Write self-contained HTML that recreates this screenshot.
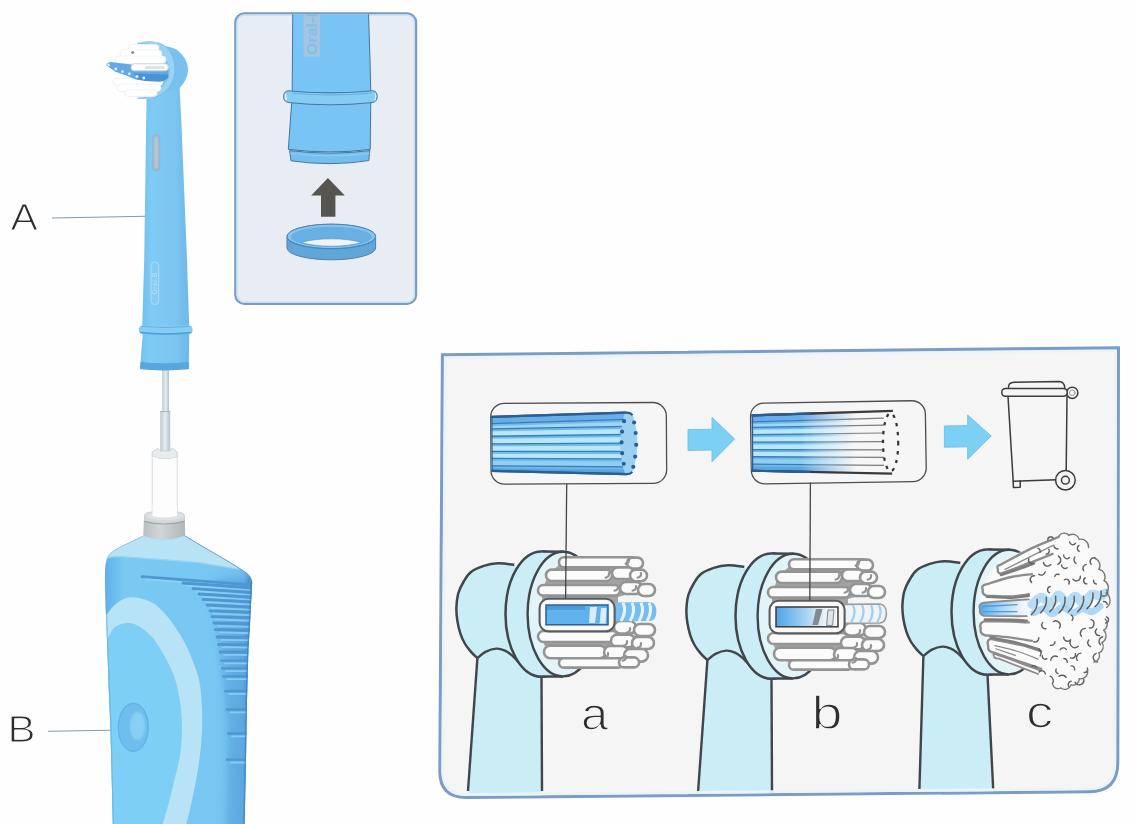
<!DOCTYPE html>
<html><head><meta charset="utf-8">
<style>
html,body{margin:0;padding:0;background:#fefefe;}
body{width:1137px;height:824px;overflow:hidden;font-family:"Liberation Sans",sans-serif;}
svg{display:block;}
text{font-family:"Liberation Sans",sans-serif;}
</style></head><body>
<svg width="1137" height="824" viewBox="0 0 1137 824">
<defs>
<filter id="scan" x="0" y="0" width="100%" height="100%" filterUnits="userSpaceOnUse"><feGaussianBlur stdDeviation="0.45"/></filter>
<filter id="soft" x="-5%" y="-5%" width="110%" height="110%"><feGaussianBlur stdDeviation="0.6"/></filter>
<filter id="soft3" x="-20%" y="-5%" width="140%" height="110%"><feGaussianBlur stdDeviation="3"/></filter>
<filter id="soft2" x="-5%" y="-5%" width="110%" height="110%"><feGaussianBlur stdDeviation="1.2"/></filter>
<linearGradient id="neckG" x1="0" x2="1" y1="0" y2="0">
 <stop offset="0" stop-color="#72c0ee"/><stop offset="0.2" stop-color="#7ecbf5"/><stop offset="0.7" stop-color="#7ac5f1"/><stop offset="1" stop-color="#6fb7e7"/>
</linearGradient>
<linearGradient id="bodyG" x1="0" x2="1" y1="0" y2="0">
 <stop offset="0" stop-color="#5fb0e8"/><stop offset="0.13" stop-color="#79c9f3"/><stop offset="0.75" stop-color="#78c7f2"/><stop offset="0.94" stop-color="#6ebcee"/><stop offset="1" stop-color="#4a8fca"/>
</linearGradient>
<linearGradient id="collarG" x1="0" x2="1" y1="0" y2="0">
 <stop offset="0" stop-color="#b9bec1"/><stop offset="0.4" stop-color="#d3d6d8"/><stop offset="1" stop-color="#b1b6ba"/>
</linearGradient>
<linearGradient id="shaftG" x1="0" x2="1" y1="0" y2="0">
 <stop offset="0" stop-color="#bccad2"/><stop offset="0.5" stop-color="#e6ecf0"/><stop offset="1" stop-color="#b4c2cb"/>
</linearGradient>
</defs>
<rect x="0" y="0" width="1137" height="824" fill="#fefefe"/>

<g filter="url(#scan)">
<!-- ============ MAIN TOOTHBRUSH ============ -->
<g id="main">

<!-- leader lines -->
<line x1="52" y1="218" x2="146" y2="216.3" stroke="#7f9bb0" stroke-width="1.1"/>
<line x1="48" y1="731.2" x2="110" y2="730.2" stroke="#7f9bb0" stroke-width="1.1"/>

<!-- metal shaft -->
<rect x="162.2" y="366" width="6.8" height="48" fill="url(#shaftG)"/>
<rect x="160.2" y="411" width="10" height="40" fill="url(#shaftG)"/>
<line x1="160.2" y1="411.5" x2="170.2" y2="411.5" stroke="#9aa9b3" stroke-width="0.8"/>
<!-- white sleeve -->
<path d="M152.2,452 L152.2,514 L177.2,514 L177.2,452 L172,448 L170.5,451 L160,451 L158,448.5 Z" fill="#fdfdfd" stroke="#d3d8dc" stroke-width="0.9"/>
<path d="M152.4,452 L158,448.5 L160,451 L170.5,451 L172,448 L177,452 L177,457 L170,458.5 L160,458.5 L152.4,456 Z" fill="#e9ecee" stroke="#c8cdd1" stroke-width="0.6"/>
<!-- gray collar -->
<path d="M144,517 Q144,512 151,511.8 L178,511.8 Q184.5,512 184.8,517 L185.2,536 Q164,543 143.2,536 Z" fill="url(#collarG)"/>
<path d="M144.4,521.4 Q164.4,526.6 184.6,521.4" fill="none" stroke="#9da3a7" stroke-width="1.1"/>
<path d="M144.2,516.4 Q144,512 151,511.8 L178,511.8 Q184.5,512 184.7,516.4 L184.7,520.6 Q164.4,525.8 144.3,520.6 Z" fill="#d4d7d9"/>
<ellipse cx="164.4" cy="516" rx="18.5" ry="4.2" fill="#e0e3e5"/>
<rect x="152.4" y="505" width="24.6" height="10" fill="#fdfdfd"/>
<ellipse cx="164.7" cy="515" rx="12.3" ry="2.6" fill="#fdfdfd"/>

<!-- HANDLE -->
<g>
<clipPath id="hclip"><path id="hpath" d="M143.2,536 Q164,543 185.2,536 L206,548.5 Q230,562 243,570.6 Q252.4,576 252,584 L250.2,620 L248.4,650 L247,700 L246,760 L244.6,826 L112.8,826 L111.5,770 L110.4,728 L108.6,685 L107.2,644 L105.6,607 L105,580 Q104.8,561 108,556.2 Q112,551 121,546.6 Z"/></clipPath>
<use href="#hpath" fill="url(#bodyG)"/>
<g clip-path="url(#hclip)">
 <!-- top face -->
 <path d="M143,535 Q164,543 185.4,535 L240,569 Q226,567.4 200,562.6 Q150,558.4 120,556.6 Q108,556.2 103,560 L100,540 Z" fill="#b8e3f5"/>
 <path d="M103,560 Q108,556.2 120,556.6 Q150,558.4 200,562.6 Q226,567.4 240,569" fill="none" stroke="#9ad3f1" stroke-width="1.4"/>
 <!-- inner oval -->
 <path d="M100.0,650.0 C101.4,647.9 106.1,641.0 108.5,637.2 C110.9,633.5 111.8,629.8 114.6,627.5 C117.4,625.2 121.9,623.6 125.5,623.2 C129.1,622.8 132.6,623.3 136.4,625.0 C140.2,626.7 144.8,630.0 148.5,633.5 C152.2,637.0 155.1,640.8 158.3,645.7 C161.6,650.6 165.2,657.0 168.0,662.7 C170.8,668.4 173.1,672.7 175.2,679.7 C177.3,686.8 179.4,696.6 180.5,705.0 C181.6,713.4 182.1,721.7 182.0,730.0 C181.9,738.3 181.3,746.7 180.0,755.0 C178.7,763.3 176.2,772.2 174.4,780.0 C172.6,787.8 171.2,794.0 169.0,802.0 C166.8,810.0 162.8,823.7 161.5,828.0 L100,828 Z" fill="#7dcff5"/>
 <!-- light arc -->
 <path d="M100.0,624.0 C101.3,622.1 105.1,616.4 107.9,612.9 C110.7,609.4 113.3,605.6 117.0,603.0 C120.7,600.4 125.1,597.7 130.3,597.3 C135.6,596.9 143.4,598.8 148.5,600.8 C153.6,602.8 156.6,605.5 160.7,609.3 C164.8,613.1 168.8,618.1 172.8,623.8 C176.9,629.5 181.6,636.8 185.0,643.3 C188.4,649.8 191.0,656.2 193.4,662.7 C195.8,669.2 198.1,674.1 199.5,682.0 C200.9,689.9 201.7,700.3 202.0,710.0 C202.3,719.7 202.3,729.2 201.5,740.0 C200.7,750.8 198.8,764.2 197.0,775.0 C195.2,785.8 192.9,796.2 191.0,805.0 C189.1,813.8 186.4,824.2 185.5,828.0 L161.5,828 C162.8,823.7 166.8,810.0 169.0,802.0 C171.2,794.0 172.6,787.8 174.4,780.0 C176.2,772.2 178.7,763.3 180.0,755.0 C181.3,746.7 181.9,738.3 182.0,730.0 C182.1,721.7 181.6,713.4 180.5,705.0 C179.4,696.6 177.3,686.8 175.2,679.7 C173.1,672.7 170.8,668.4 168.0,662.7 C165.2,657.0 161.6,650.6 158.3,645.7 C155.1,640.8 152.2,637.0 148.5,633.5 C144.8,630.0 140.2,626.7 136.4,625.0 C132.6,623.3 129.1,622.8 125.5,623.2 C121.9,623.6 117.4,625.2 114.6,627.5 C111.8,629.8 110.9,633.5 108.5,637.2 C106.1,641.0 101.4,647.9 100.0,650.0 Z" fill="#b8e2f5"/>
 <!-- button -->
 <ellipse cx="133.3" cy="727.3" rx="15" ry="24" fill="#6fbeee" stroke="#63b2e9" stroke-width="1.3"/>
 <ellipse cx="137.5" cy="726" rx="7.5" ry="14" fill="#8dd3f7" opacity="0.85" filter="url(#soft2)"/>
 <linearGradient id="rzG" gradientUnits="userSpaceOnUse" x1="206" x2="252" y1="0" y2="0"><stop offset="0" stop-color="#3f86c8" stop-opacity="0"/><stop offset="0.35" stop-color="#3f86c8" stop-opacity="0.28"/><stop offset="1" stop-color="#3f86c8" stop-opacity="0.42"/></linearGradient>
 <path d="M170,574 L260,580 L260,830 L226,830 L228,735 L224,690 L218,640 L208,606 L196,590 Z" fill="url(#rzG)" filter="url(#soft3)"/>
 <!-- ridges -->
 <g id="ridges" stroke-linecap="round">
 <line x1="142" y1="576.6" x2="253" y2="584.9" stroke="#4f97d0" stroke-width="2.8"/>
<line x1="146" y1="579.4" x2="253" y2="587.7" stroke="#8fd3f8" stroke-width="1.8" opacity="0.8"/>
<line x1="183" y1="583" x2="253" y2="587.8" stroke="#4f97d0" stroke-width="2.8"/>
<line x1="187" y1="585.8" x2="253" y2="590.6" stroke="#8fd3f8" stroke-width="1.8" opacity="0.8"/>
<line x1="193" y1="588.6" x2="253" y2="592.4" stroke="#4f97d0" stroke-width="2.8"/>
<line x1="197" y1="591.4" x2="253" y2="595.2" stroke="#8fd3f8" stroke-width="1.8" opacity="0.8"/>
<line x1="199" y1="594" x2="253" y2="597.1" stroke="#4f97d0" stroke-width="2.8"/>
<line x1="203" y1="596.8" x2="253" y2="599.9" stroke="#8fd3f8" stroke-width="1.8" opacity="0.8"/>
<line x1="203" y1="599.4" x2="253" y2="602.0" stroke="#4f97d0" stroke-width="2.8"/>
<line x1="207" y1="602.1999999999999" x2="253" y2="604.8" stroke="#8fd3f8" stroke-width="1.8" opacity="0.8"/>
<line x1="207" y1="605" x2="253" y2="607.1" stroke="#4f97d0" stroke-width="2.8"/>
<line x1="211" y1="607.8" x2="253" y2="609.9" stroke="#8fd3f8" stroke-width="1.8" opacity="0.8"/>
<line x1="210" y1="610.8" x2="253" y2="612.5" stroke="#4f97d0" stroke-width="2.8"/>
<line x1="214" y1="613.5999999999999" x2="253" y2="615.3" stroke="#8fd3f8" stroke-width="1.8" opacity="0.8"/>
<line x1="212" y1="616.6" x2="253" y2="618.0" stroke="#4f97d0" stroke-width="2.8"/>
<line x1="216" y1="619.4" x2="253" y2="620.8" stroke="#8fd3f8" stroke-width="1.8" opacity="0.8"/>
<line x1="214" y1="623" x2="253" y2="624.1" stroke="#4f97d0" stroke-width="2.8"/>
<line x1="218" y1="625.8" x2="253" y2="626.9" stroke="#8fd3f8" stroke-width="1.8" opacity="0.8"/>
<line x1="215.5" y1="629.6" x2="253" y2="630.5" stroke="#4f97d0" stroke-width="2.8"/>
<line x1="219.5" y1="632.4" x2="253" y2="633.3" stroke="#8fd3f8" stroke-width="1.8" opacity="0.8"/>
<line x1="217" y1="637" x2="253" y2="637.6" stroke="#4f97d0" stroke-width="2.8"/>
<line x1="221" y1="639.8" x2="253" y2="640.4" stroke="#8fd3f8" stroke-width="1.8" opacity="0.8"/>
<line x1="218.5" y1="644.4" x2="253" y2="644.8" stroke="#4f97d0" stroke-width="2.8"/>
<line x1="222.5" y1="647.1999999999999" x2="253" y2="647.6" stroke="#8fd3f8" stroke-width="1.8" opacity="0.8"/>
<line x1="220" y1="652" x2="253" y2="652.2" stroke="#4f97d0" stroke-width="2.8"/>
<line x1="224" y1="654.8" x2="253" y2="655.0" stroke="#8fd3f8" stroke-width="1.8" opacity="0.8"/>
<line x1="221" y1="660.6" x2="253" y2="660.6" stroke="#4f97d0" stroke-width="2.3"/>
<line x1="225" y1="663.4" x2="253" y2="663.4" stroke="#8fd3f8" stroke-width="1.8" opacity="0.8"/>
<line x1="222" y1="668.4" x2="253" y2="668.4" stroke="#4f97d0" stroke-width="2.3"/>
<line x1="226" y1="671.1999999999999" x2="253" y2="671.2" stroke="#8fd3f8" stroke-width="1.8" opacity="0.8"/>
<line x1="223" y1="676.4" x2="253" y2="676.4" stroke="#4f97d0" stroke-width="2.3"/>
<line x1="227" y1="679.1999999999999" x2="253" y2="679.2" stroke="#8fd3f8" stroke-width="1.8" opacity="0.8"/>
<line x1="225" y1="691" x2="253" y2="691.0" stroke="#4f97d0" stroke-width="2.3"/>
<line x1="229" y1="693.8" x2="253" y2="693.8" stroke="#8fd3f8" stroke-width="1.8" opacity="0.8"/>
<line x1="226.5" y1="709.5" x2="253" y2="709.5" stroke="#4f97d0" stroke-width="2.3"/>
<line x1="230.5" y1="712.3" x2="253" y2="712.3" stroke="#8fd3f8" stroke-width="1.8" opacity="0.8"/>
<line x1="228" y1="733.5" x2="253" y2="733.5" stroke="#4f97d0" stroke-width="2.3"/>
<line x1="232" y1="736.3" x2="253" y2="736.3" stroke="#8fd3f8" stroke-width="1.8" opacity="0.8"/>
<line x1="227" y1="759.7" x2="253" y2="759.7" stroke="#4f97d0" stroke-width="2.3"/>
<line x1="231" y1="762.5" x2="253" y2="762.5" stroke="#8fd3f8" stroke-width="1.8" opacity="0.8"/>
 </g>
 <!-- edge shading -->
 <path d="M105,560 L105.6,607 L107.2,644 L108.6,685 L110.4,728 L112.8,826" fill="none" stroke="#58abe3" stroke-width="2.4" opacity="0.6"/>
 <path d="M252,582 L250.2,620 L248.4,650 L247,700 L246,760 L244.6,826" fill="none" stroke="#3b7fbd" stroke-width="2.6" opacity="0.8"/>
</g>
<path d="M185.2,536 L206,548.5 Q230,562 243,570.6 Q252.4,576 252,584" fill="none" stroke="#4e86b6" stroke-width="0.9" opacity="0.8"/>
<path d="M143.2,536 L121,546.6 Q112,551 108,556.2" fill="none" stroke="#7fb6dc" stroke-width="0.8" opacity="0.8"/>
</g>

<!-- NECK (brush head stem) -->
<g>
 <!-- head back -->
 <path d="M164.6,46 Q171,46.8 176.5,49.4 Q181.6,53 185,58.8 Q188.2,64 188,69.4 Q188,74.6 185.8,79.2 Q183.6,84 179.9,87.7 L176,95 L158,97 Z" fill="#78c1ef"/>
 <!-- neck -->
 <path d="M146.6,97 L146.2,120 L144.2,260 L142.2,326 L189.2,326 L187,260 L181.3,120 L179.6,88 L165,92 Z" fill="url(#neckG)"/>
 <!-- lower neck -->
 <path d="M142.8,333 L140,369 Q164,371.5 188.8,369 L189.2,333 Z" fill="url(#neckG)"/>
 <path d="M140.5,362 Q164,364.5 188.8,362 L188.8,369 Q164,371.8 140,369 Z" fill="#59a6dc"/>
 <!-- ring -->
 <rect x="138.8" y="325.6" width="53.8" height="8.2" rx="4" ry="4" fill="#86cdf5"/>
 <path d="M140,332.5 Q165,335.5 191.5,332.5" fill="none" stroke="#4f9fd9" stroke-width="1.3"/>
 <path d="M141,326.4 Q165,328.6 190.5,326.4" fill="none" stroke="#5aa8df" stroke-width="0.8"/>
 <!-- gray slot -->
 <rect x="152.8" y="134.6" width="7" height="36" rx="3" ry="3" fill="#a6bacd" stroke="#8fb0cc" stroke-width="0.8"/>
 <rect x="154.6" y="137" width="3" height="31" rx="1.5" fill="#b7c5d2"/>
 <!-- logo -->
 <g transform="translate(154.9,283.3) rotate(-90)">
  <rect x="-21.3" y="-3.8" width="42.6" height="7.6" rx="3.8" fill="#85cbf3" stroke="#b0dbf5" stroke-width="1"/>
  <text x="0" y="2.3" font-size="6.4" font-weight="bold" text-anchor="middle" fill="#b3daf4" letter-spacing="0.5">Oral-B</text>
 </g>
 <!-- crescent rim -->
 <path d="M137.0,43.5 C138.2,43.2 141.7,42.0 144.0,41.6 C146.3,41.2 148.7,41.0 151.0,41.2 C153.3,41.4 155.7,41.8 158.0,42.6 C160.3,43.4 162.7,44.7 164.6,46.0 C166.5,47.3 168.1,48.9 169.4,50.6 C170.7,52.3 171.6,54.3 172.4,56.2 C173.2,58.1 174.0,59.9 174.4,62.0 C174.8,64.1 174.9,66.7 174.9,69.0 C174.9,71.3 174.6,73.9 174.2,76.0 C173.8,78.1 173.1,79.8 172.2,81.7 C171.3,83.6 170.3,85.7 169.0,87.4 C167.7,89.1 166.3,90.6 164.6,92.0 C162.9,93.4 161.0,94.6 159.0,95.6 C157.0,96.6 155.0,97.3 152.7,97.9 C150.4,98.5 147.6,98.9 145.0,99.0 C142.4,99.1 138.7,98.4 137.4,98.3 C138.8,98.1 143.4,97.8 146.0,97.2 C148.6,96.6 150.4,95.8 152.7,94.5 C154.9,93.2 157.5,91.4 159.5,89.4 C161.5,87.4 163.2,84.6 164.6,82.6 C165.9,80.6 166.9,79.2 167.6,77.6 C168.3,76.0 168.6,74.7 168.8,73.2 C169.0,71.7 169.1,70.2 169.0,68.8 C168.9,67.4 168.6,66.3 168.0,64.7 C167.4,63.1 166.5,61.1 165.4,59.4 C164.3,57.7 162.5,56.1 161.2,54.5 C159.9,52.9 158.7,51.4 157.6,50.0 C156.5,48.6 156.3,47.0 154.4,46.0 C152.5,45.0 148.9,44.6 146.0,44.2 C143.1,43.8 138.5,43.6 137.0,43.5 Z" fill="#9ad2f3"/>
 <path d="M137.4,98.3 C138.8,98.1 143.4,97.8 146.0,97.2 C148.6,96.6 150.4,95.8 152.7,94.5 C154.9,93.2 157.5,91.4 159.5,89.4 C161.5,87.4 163.2,84.6 164.6,82.6 C165.9,80.6 166.9,79.2 167.6,77.6 C168.3,76.0 168.6,74.7 168.8,73.2 C169.0,71.7 169.1,70.2 169.0,68.8 C168.9,67.4 168.6,66.3 168.0,64.7 C167.4,63.1 166.5,61.1 165.4,59.4 C164.3,57.7 162.5,56.1 161.2,54.5 C159.9,52.9 158.7,51.4 157.6,50.0 C156.5,48.6 156.3,47.0 154.4,46.0 C152.5,45.0 148.9,44.6 146.0,44.2 C143.1,43.8 138.5,43.6 137.0,43.5" fill="none" stroke="#7fc0ea" stroke-width="1.6" opacity="0.8"/>
 <path d="M158.0,42.6 C159.1,43.2 162.7,44.7 164.6,46.0 C166.5,47.3 168.1,48.9 169.4,50.6 C170.7,52.3 171.6,54.3 172.4,56.2 C173.2,58.1 174.0,59.9 174.4,62.0 C174.8,64.1 174.9,66.7 174.9,69.0 C174.9,71.3 174.6,73.9 174.2,76.0 C173.8,78.1 173.1,79.8 172.2,81.7 C171.3,83.6 170.3,85.7 169.0,87.4 C167.7,89.1 166.3,90.6 164.6,92.0 C162.9,93.4 161.0,94.6 159.0,95.6 C157.0,96.6 153.8,97.5 152.7,97.9" fill="none" stroke="#6fb7e8" stroke-width="0.8"/>
 <!-- bristles: white tufts -->
 <g fill="#ffffff" stroke="#eceff1" stroke-width="0.8">
  <rect x="128" y="44.5" width="31" height="7" rx="3.5"/>
  <rect x="120" y="50" width="42" height="7.5" rx="3.7"/>
  <rect x="115" y="56" width="51" height="7.5" rx="3.7"/>
  <rect x="113" y="78" width="50" height="7.5" rx="3.7"/>
  <rect x="117" y="84" width="44" height="7.5" rx="3.7"/>
  <rect x="125" y="90" width="32" height="6.5" rx="3.2"/>
 </g>
 <!-- blue bristles -->
 <path d="M106.4,63.9 Q108.6,61.4 112.7,62.2 L129.7,64.3 L150,67 L168,68.6 L168.6,77 Q165,81 159.5,81.5 L145.9,81.1 L135.7,79.4 L125.5,75.2 L115.3,71.8 L108.5,66.8 Q106,65.6 106.4,63.9 Z" fill="#62aae4"/>
 <path d="M134,73.4 L167.6,74.4 L168.4,77.4 Q165,81 159.5,81.5 L145.9,81.1 L138,79.6 Z" fill="#4a92d5"/>
 <g fill="#dff0fb">
  <circle cx="108.6" cy="64.8" r="1.4"/><circle cx="115.8" cy="69" r="1.4"/><circle cx="122.6" cy="71.6" r="1.4"/><circle cx="129.4" cy="73.8" r="1.4"/><circle cx="137" cy="76.6" r="1.5"/><circle cx="143.8" cy="78" r="1.4"/>
 </g>
 <rect x="131" y="63.8" width="37.4" height="7" rx="3.5" fill="#ffffff" stroke="#c9d4dc" stroke-width="0.9"/>
 <rect x="144.6" y="66" width="20" height="3" rx="1.5" fill="#dfe3e6"/>
 <circle cx="132.7" cy="52.4" r="1.5" fill="#5d6670" opacity="0.75"/>
</g>

</g>

<!-- ============ INSET (ring) ============ -->
<g id="inset">

<clipPath id="insclip"><rect x="236.2" y="14.2" width="179" height="288.8" rx="8" ry="8"/></clipPath>
<rect x="235.3" y="13.3" width="180.8" height="290.6" rx="9" ry="9" fill="#e8ecf3" stroke="#789dc4" stroke-width="2.2"/>
<rect x="237" y="15" width="177.4" height="287.2" rx="7.5" ry="7.5" fill="none" stroke="#c3def3" stroke-width="1.4" opacity="0.9"/>
<g clip-path="url(#insclip)">
 <!-- neck upper -->
 <path d="M292.8,10 L292.4,60 L292.2,93 L370.8,93 L370,60 L368.4,10 Z" fill="#78c4f4" stroke="#44779f" stroke-width="1"/>
 <!-- logo -->
 <g transform="translate(311.8,36.4) rotate(-90)">
  <clipPath id="lgc"><rect x="-20.4" y="-8.2" width="44" height="16.4" rx="2.5"/></clipPath>
  <rect x="-20.4" y="-8.2" width="44" height="16.4" rx="2.5" fill="#a9c5de" opacity="0.9"/>
  <text x="-18.6" y="5.6" font-size="15.5" font-weight="bold" fill="#7fbfea" letter-spacing="0.3" clip-path="url(#lgc)" opacity="0.9">Oral-B</text>
 </g>
 <!-- below ring -->
 <path d="M291.8,101 L288.3,149.4 Q330,154.5 370.2,149.4 L370.8,101 Z" fill="#78c4f4" stroke="#44779f" stroke-width="1"/>
 <!-- bottom lip -->
 <path d="M289.6,150.6 Q330,155.6 369.8,150.6 L368.8,160.6 Q330,166.6 291,160.8 Z" fill="#74bff0" stroke="#44779f" stroke-width="1"/>
 <path d="M290.5,153.4 Q330,158.4 369.4,153.4" fill="none" stroke="#8dcbf1" stroke-width="1.2"/>
 <!-- ring on neck -->
 <path d="M288,90.8 Q330,95 373,90.8 Q377.4,91.4 377.2,96.8 Q377,102 372,102.6 Q330,107 289,102.6 Q283.6,102 283.6,96.8 Q283.6,91.4 288,90.8 Z" fill="#86cdf6" stroke="#44779f" stroke-width="1"/>
 <path d="M285.6,94 Q285,97.4 286.4,100" fill="none" stroke="#eef6fb" stroke-width="1.6"/>
 <path d="M375.4,93.4 Q376.2,97 374.8,100.4" fill="none" stroke="#dcedf8" stroke-width="1.2"/>
 <path d="M292.4,93.2 Q330,96.8 370.6,93.2" fill="none" stroke="#4d93cf" stroke-width="0.8" opacity="0.7"/>
</g>
<!-- arrow up -->
<path d="M327.9,178 L344.8,195.4 L335.4,195.4 L335.4,216.8 L321,216.8 L321,195.4 L311.2,195.4 Z" fill="#57554f"/>
<!-- loose ring -->
<g>
 <path d="M287,236.4 A44.3,12.2 0 0 1 375.6,236.4 L375.6,248 A44.3,11.8 0 0 1 287,248 Z" fill="#61a6d8" stroke="#4f7faf" stroke-width="1"/>
 <ellipse cx="331.3" cy="236.4" rx="44.3" ry="12.2" fill="#84c6ee" stroke="#4f7faf" stroke-width="0.9"/>
 <ellipse cx="331.3" cy="236.9" rx="40.6" ry="10.2" fill="#68b0e2"/>
 <path d="M301.3,242.5 A38,9.6 0 0 1 361.3,242.5 A38,9.6 0 0 1 301.3,242.5 Z" fill="#f1f3f6" stroke="#4a90cf" stroke-width="0.6"/>
 <path d="M287.6,238.6 A44.3,12.2 0 0 0 375,238.6" fill="none" stroke="#3f86c6" stroke-width="1" opacity="0.85"/>
</g>

</g>

<!-- ============ PANEL a b c ============ -->
<g id="panel">

<defs>
<linearGradient id="fadeG" x1="0" x2="1" y1="0" y2="0"><stop offset="0" stop-color="#4fa4e6"/><stop offset="0.45" stop-color="#9fd0f2"/><stop offset="0.8" stop-color="#eef3f6"/><stop offset="1" stop-color="#f4f4f4"/></linearGradient>
<linearGradient id="cblueG" x1="0" x2="1" y1="0" y2="0"><stop offset="0" stop-color="#55a8e9"/><stop offset="0.45" stop-color="#a9d5f4"/><stop offset="0.9" stop-color="#f4f7fa"/></linearGradient>
<linearGradient id="b2fade" gradientUnits="userSpaceOnUse" x1="800" x2="856" y1="0" y2="0"><stop offset="0" stop-color="#f6f6f6" stop-opacity="0"/><stop offset="1" stop-color="#f6f6f6" stop-opacity="1"/></linearGradient>
<linearGradient id="lineG" gradientUnits="userSpaceOnUse" x1="800" x2="850" y1="0" y2="0"><stop offset="0" stop-color="#666" stop-opacity="0"/><stop offset="1" stop-color="#666" stop-opacity="1"/></linearGradient>
<clipPath id="co1"><rect x="491.4" y="403.4" width="174.6" height="80" rx="13"/></clipPath>
<clipPath id="co2"><rect x="751.4" y="402.4" width="174.2" height="80" rx="13"/></clipPath>
</defs>
<!-- panel frame -->
<path d="M442.4,354.7 L1118.5,347.8 L1117.8,763 Q1117.6,791.4 1089.6,791.8 L466.4,797.4 Q440,797.6 439.8,771.4 Z" fill="#f5f5f5" stroke="#7a9dc8" stroke-width="3" stroke-linejoin="miter"/>

<!-- heads -->
<clipPath id="pclip"><path d="M443.8,356.2 L1117,349.3 L1116.4,763 Q1116.2,790 1089.6,790.4 L466.4,796 Q441.4,796.2 441.2,771.4 Z"/></clipPath>
<g clip-path="url(#pclip)">
<g id="headA"><path d="M477.4,658.2 C478.8,657.1 482.8,653.2 486.0,651.6 C489.2,650.0 493.2,648.8 496.4,648.6 C499.6,648.4 502.4,649.5 505.0,650.6 C507.6,651.7 509.5,653.2 512.0,655.4 C514.5,657.6 517.4,660.9 520.0,663.6 C522.6,666.3 525.1,669.4 527.4,671.4 C529.7,673.4 531.6,674.5 534.0,675.4 C536.4,676.3 540.2,676.4 541.5,676.6 L542,800 L468,800 Z" fill="#cbedf5"/>
<path d="M477.4,658.2 L468,791" fill="none" stroke="#41464c" stroke-width="2.4"/>
<path d="M541.5,676.4 L542,791" fill="none" stroke="#41464c" stroke-width="2.4"/>
<path d="M514.3,564.8 C511.6,564.5 503.1,563.0 498.0,563.2 C492.9,563.4 488.2,564.4 483.7,565.9 C479.2,567.4 474.3,569.5 471.0,572.0 C467.7,574.5 466.1,577.5 464.0,581.0 C461.9,584.5 459.7,588.6 458.4,593.0 C457.1,597.4 456.6,602.7 456.4,607.4 C456.2,612.1 456.7,616.6 457.4,621.0 C458.1,625.4 459.2,629.9 460.4,633.6 C461.6,637.4 463.1,640.5 464.8,643.5 C466.5,646.5 468.5,648.9 470.6,651.4 C472.7,653.9 476.3,657.1 477.4,658.2 C478.8,657.1 482.8,653.2 486.0,651.6 C489.2,650.0 493.2,648.8 496.4,648.6 C499.6,648.4 502.4,649.5 505.0,650.6 C507.6,651.7 509.5,653.2 512.0,655.4 C514.5,657.6 517.4,660.9 520.0,663.6 C522.6,666.3 525.1,669.4 527.4,671.4 C529.7,673.4 531.6,674.5 534.0,675.4 C536.4,676.3 540.2,676.4 541.5,676.6 L541.5,600 Z" fill="#cbedf5"/>
<path d="M514.3,564.8 C511.6,564.5 503.1,563.0 498.0,563.2 C492.9,563.4 488.2,564.4 483.7,565.9 C479.2,567.4 474.3,569.5 471.0,572.0 C467.7,574.5 466.1,577.5 464.0,581.0 C461.9,584.5 459.7,588.6 458.4,593.0 C457.1,597.4 456.6,602.7 456.4,607.4 C456.2,612.1 456.7,616.6 457.4,621.0 C458.1,625.4 459.2,629.9 460.4,633.6 C461.6,637.4 463.1,640.5 464.8,643.5 C466.5,646.5 468.5,648.9 470.6,651.4 C472.7,653.9 476.3,657.1 477.4,658.2" fill="none" stroke="#41464c" stroke-width="2.5"/>
<path d="M477.4,658.2 C478.8,657.1 482.8,653.2 486.0,651.6 C489.2,650.0 493.2,648.8 496.4,648.6 C499.6,648.4 502.4,649.5 505.0,650.6 C507.6,651.7 509.5,653.2 512.0,655.4 C514.5,657.6 517.4,660.9 520.0,663.6 C522.6,666.3 525.1,669.4 527.4,671.4 C529.7,673.4 531.6,674.5 534.0,675.4 C536.4,676.3 540.2,676.4 541.5,676.6" fill="none" stroke="#41464c" stroke-width="2.4"/>
<path d="M541.5,551.4 L563,551.8 L563,676.4 L541.5,676.6 Z" fill="#cbedf5"/>
<ellipse cx="541.5" cy="614" rx="36" ry="62.6" fill="#cbedf5" stroke="#41464c" stroke-width="2.5"/>
<path d="M541.5,551.4 L563,551.8 L563,676.4 L541.5,676.6 Z" fill="#cbedf5"/>
<line x1="541.5" y1="551.4" x2="564" y2="551.8" stroke="#41464c" stroke-width="2.5"/>
<line x1="541.5" y1="676.6" x2="563" y2="676.4" stroke="#41464c" stroke-width="2.5"/>
<ellipse cx="563" cy="614.1" rx="35.4" ry="62.3" fill="#e3f4f9"/>
<path d="M587,568.2 A35.4,62.3 0 0 0 563,551.8 A35.4,62.3 0 0 0 563,676.4 A35.4,62.3 0 0 0 585,663" fill="none" stroke="#41464c" stroke-width="2.4" stroke-linecap="round"/><path d="M563,561 L626,561 L634,572 L636,592 L618,597 L618,632 L636,636 L634,652 L622,663 L563,663 L549,654 L542,640 L542,590 L549,574 Z" fill="#a3a3a3"/>
<rect x="559" y="557.3" width="78" height="10" rx="5.0" ry="5.0" fill="#fbfbfb" stroke="#949494" stroke-width="2.6"/>
<rect x="627" y="557.6" width="16" height="11" rx="5.5" ry="5.5" fill="#fbfbfb" stroke="#949494" stroke-width="2.6"/>
<rect x="546" y="569.6" width="66" height="11.4" rx="5.7" ry="5.7" fill="#fbfbfb" stroke="#949494" stroke-width="2.6"/>
<rect x="612" y="567.4" width="22" height="11.6" rx="5.8" ry="5.8" fill="#fbfbfb" stroke="#949494" stroke-width="2.6"/>
<rect x="630" y="569.6" width="17" height="11.6" rx="5.8" ry="5.8" fill="#fbfbfb" stroke="#949494" stroke-width="2.6"/>
<rect x="538" y="585" width="82" height="10.6" rx="5.3" ry="5.3" fill="#fbfbfb" stroke="#949494" stroke-width="2.6"/>
<rect x="620" y="582" width="22" height="12" rx="6.0" ry="6.0" fill="#fbfbfb" stroke="#949494" stroke-width="2.6"/>
<rect x="638" y="584" width="17" height="12" rx="6.0" ry="6.0" fill="#fbfbfb" stroke="#949494" stroke-width="2.6"/>
<rect x="538" y="631" width="80" height="11" rx="5.5" ry="5.5" fill="#fbfbfb" stroke="#949494" stroke-width="2.6"/>
<rect x="614" y="621" width="22" height="12.6" rx="6.3" ry="6.3" fill="#fbfbfb" stroke="#949494" stroke-width="2.6"/>
<rect x="634" y="624" width="21" height="12" rx="6.0" ry="6.0" fill="#fbfbfb" stroke="#949494" stroke-width="2.6"/>
<rect x="611" y="634.6" width="24" height="12.6" rx="6.3" ry="6.3" fill="#fbfbfb" stroke="#949494" stroke-width="2.6"/>
<rect x="632" y="637" width="22" height="12" rx="6.0" ry="6.0" fill="#fbfbfb" stroke="#949494" stroke-width="2.6"/>
<rect x="544" y="645.6" width="62" height="12.6" rx="6.3" ry="6.3" fill="#fbfbfb" stroke="#949494" stroke-width="2.6"/>
<rect x="604" y="646" width="24" height="12.4" rx="6.2" ry="6.2" fill="#fbfbfb" stroke="#949494" stroke-width="2.6"/>
<rect x="624" y="649" width="24" height="12.6" rx="6.3" ry="6.3" fill="#fbfbfb" stroke="#949494" stroke-width="2.6"/>
<rect x="559" y="658.2" width="64" height="9.4" rx="4.7" ry="4.7" fill="#fbfbfb" stroke="#949494" stroke-width="2.6"/>
<rect x="619" y="657.4" width="20" height="10" rx="5.0" ry="5.0" fill="#fbfbfb" stroke="#949494" stroke-width="2.6"/>
<path d="M609,573 Q609.6,577 605.6,577.6" fill="none" stroke="#949494" stroke-width="2.2" stroke-linecap="round"/>
<path d="M629,559 Q629.6,563 625.6,563.6" fill="none" stroke="#949494" stroke-width="2.2" stroke-linecap="round"/>
<path d="M641,573 Q641.6,577 637.6,577.6" fill="none" stroke="#949494" stroke-width="2.2" stroke-linecap="round"/>
<path d="M618,586 Q618.6,590 614.6,590.6" fill="none" stroke="#949494" stroke-width="2.2" stroke-linecap="round"/>
<path d="M636,586 Q636.6,590 632.6,590.6" fill="none" stroke="#949494" stroke-width="2.2" stroke-linecap="round"/>
<path d="M611,627 Q611.6,631 607.6,631.6" fill="none" stroke="#949494" stroke-width="2.2" stroke-linecap="round"/>
<path d="M630,628 Q630.6,632 626.6,632.6" fill="none" stroke="#949494" stroke-width="2.2" stroke-linecap="round"/>
<path d="M627,641 Q627.6,645 623.6,645.6" fill="none" stroke="#949494" stroke-width="2.2" stroke-linecap="round"/>
<path d="M608,653 Q608.6,657 604.6,657.6" fill="none" stroke="#949494" stroke-width="2.2" stroke-linecap="round"/>
<path d="M626,656 Q626.6,660 622.6,660.6" fill="none" stroke="#949494" stroke-width="2.2" stroke-linecap="round"/>
<path d="M641,643 Q641.6,647 637.6,647.6" fill="none" stroke="#949494" stroke-width="2.2" stroke-linecap="round"/><path d="M612,602.4 L650,602 Q656.4,603 656.4,611.4 Q656,620.6 650,621 L612,621.4 Z" fill="#78bdef"/>
<path d="M623,602.6 Q627,611 621,621" fill="none" stroke="#e6f3fb" stroke-width="3"/>
<path d="M632,602.6 Q636,611 630,621" fill="none" stroke="#e6f3fb" stroke-width="3"/>
<path d="M641,602.6 Q645,611 639,621" fill="none" stroke="#e6f3fb" stroke-width="3"/>
<path d="M649,602.6 Q653,611 647,621" fill="none" stroke="#e6f3fb" stroke-width="3"/>
<rect x="539.6" y="598.8" width="75" height="32.6" rx="9" ry="9" fill="#f8f8f8" stroke="#5c5c5c" stroke-width="2.1"/>
<rect x="546" y="605" width="62" height="19.8" fill="#5fb2ec" stroke="#2e5f91" stroke-width="1.5"/>
<rect x="547" y="606" width="38" height="4" fill="#3f86c9" opacity="0.55"/>
<path d="M590,607 L597,607 L595,623 L589,623 Z" fill="#d8ecf9"/>
<path d="M601,608 L606.6,608 L605.6,623.4 L599.6,623.4 Z" fill="#d8ecf9"/></g>
<g id="headB" transform="translate(230,2)"><path d="M477.4,658.2 C478.8,657.1 482.8,653.2 486.0,651.6 C489.2,650.0 493.2,648.8 496.4,648.6 C499.6,648.4 502.4,649.5 505.0,650.6 C507.6,651.7 509.5,653.2 512.0,655.4 C514.5,657.6 517.4,660.9 520.0,663.6 C522.6,666.3 525.1,669.4 527.4,671.4 C529.7,673.4 531.6,674.5 534.0,675.4 C536.4,676.3 540.2,676.4 541.5,676.6 L542,800 L468,800 Z" fill="#cbedf5"/>
<path d="M477.4,658.2 L468,791" fill="none" stroke="#41464c" stroke-width="2.4"/>
<path d="M541.5,676.4 L542,791" fill="none" stroke="#41464c" stroke-width="2.4"/>
<path d="M514.3,564.8 C511.6,564.5 503.1,563.0 498.0,563.2 C492.9,563.4 488.2,564.4 483.7,565.9 C479.2,567.4 474.3,569.5 471.0,572.0 C467.7,574.5 466.1,577.5 464.0,581.0 C461.9,584.5 459.7,588.6 458.4,593.0 C457.1,597.4 456.6,602.7 456.4,607.4 C456.2,612.1 456.7,616.6 457.4,621.0 C458.1,625.4 459.2,629.9 460.4,633.6 C461.6,637.4 463.1,640.5 464.8,643.5 C466.5,646.5 468.5,648.9 470.6,651.4 C472.7,653.9 476.3,657.1 477.4,658.2 C478.8,657.1 482.8,653.2 486.0,651.6 C489.2,650.0 493.2,648.8 496.4,648.6 C499.6,648.4 502.4,649.5 505.0,650.6 C507.6,651.7 509.5,653.2 512.0,655.4 C514.5,657.6 517.4,660.9 520.0,663.6 C522.6,666.3 525.1,669.4 527.4,671.4 C529.7,673.4 531.6,674.5 534.0,675.4 C536.4,676.3 540.2,676.4 541.5,676.6 L541.5,600 Z" fill="#cbedf5"/>
<path d="M514.3,564.8 C511.6,564.5 503.1,563.0 498.0,563.2 C492.9,563.4 488.2,564.4 483.7,565.9 C479.2,567.4 474.3,569.5 471.0,572.0 C467.7,574.5 466.1,577.5 464.0,581.0 C461.9,584.5 459.7,588.6 458.4,593.0 C457.1,597.4 456.6,602.7 456.4,607.4 C456.2,612.1 456.7,616.6 457.4,621.0 C458.1,625.4 459.2,629.9 460.4,633.6 C461.6,637.4 463.1,640.5 464.8,643.5 C466.5,646.5 468.5,648.9 470.6,651.4 C472.7,653.9 476.3,657.1 477.4,658.2" fill="none" stroke="#41464c" stroke-width="2.5"/>
<path d="M477.4,658.2 C478.8,657.1 482.8,653.2 486.0,651.6 C489.2,650.0 493.2,648.8 496.4,648.6 C499.6,648.4 502.4,649.5 505.0,650.6 C507.6,651.7 509.5,653.2 512.0,655.4 C514.5,657.6 517.4,660.9 520.0,663.6 C522.6,666.3 525.1,669.4 527.4,671.4 C529.7,673.4 531.6,674.5 534.0,675.4 C536.4,676.3 540.2,676.4 541.5,676.6" fill="none" stroke="#41464c" stroke-width="2.4"/>
<path d="M541.5,551.4 L563,551.8 L563,676.4 L541.5,676.6 Z" fill="#cbedf5"/>
<ellipse cx="541.5" cy="614" rx="36" ry="62.6" fill="#cbedf5" stroke="#41464c" stroke-width="2.5"/>
<path d="M541.5,551.4 L563,551.8 L563,676.4 L541.5,676.6 Z" fill="#cbedf5"/>
<line x1="541.5" y1="551.4" x2="564" y2="551.8" stroke="#41464c" stroke-width="2.5"/>
<line x1="541.5" y1="676.6" x2="563" y2="676.4" stroke="#41464c" stroke-width="2.5"/>
<ellipse cx="563" cy="614.1" rx="35.4" ry="62.3" fill="#e3f4f9"/>
<path d="M587,568.2 A35.4,62.3 0 0 0 563,551.8 A35.4,62.3 0 0 0 563,676.4 A35.4,62.3 0 0 0 585,663" fill="none" stroke="#41464c" stroke-width="2.4" stroke-linecap="round"/><path d="M563,561 L626,561 L634,572 L636,592 L618,597 L618,632 L636,636 L634,652 L622,663 L563,663 L549,654 L542,640 L542,590 L549,574 Z" fill="#a3a3a3"/>
<rect x="559" y="557.3" width="78" height="10" rx="5.0" ry="5.0" fill="#fbfbfb" stroke="#949494" stroke-width="2.6"/>
<rect x="627" y="557.6" width="16" height="11" rx="5.5" ry="5.5" fill="#fbfbfb" stroke="#949494" stroke-width="2.6"/>
<rect x="546" y="569.6" width="66" height="11.4" rx="5.7" ry="5.7" fill="#fbfbfb" stroke="#949494" stroke-width="2.6"/>
<rect x="612" y="567.4" width="22" height="11.6" rx="5.8" ry="5.8" fill="#fbfbfb" stroke="#949494" stroke-width="2.6"/>
<rect x="630" y="569.6" width="17" height="11.6" rx="5.8" ry="5.8" fill="#fbfbfb" stroke="#949494" stroke-width="2.6"/>
<rect x="538" y="585" width="82" height="10.6" rx="5.3" ry="5.3" fill="#fbfbfb" stroke="#949494" stroke-width="2.6"/>
<rect x="620" y="582" width="22" height="12" rx="6.0" ry="6.0" fill="#fbfbfb" stroke="#949494" stroke-width="2.6"/>
<rect x="638" y="584" width="17" height="12" rx="6.0" ry="6.0" fill="#fbfbfb" stroke="#949494" stroke-width="2.6"/>
<rect x="538" y="631" width="80" height="11" rx="5.5" ry="5.5" fill="#fbfbfb" stroke="#949494" stroke-width="2.6"/>
<rect x="614" y="621" width="22" height="12.6" rx="6.3" ry="6.3" fill="#fbfbfb" stroke="#949494" stroke-width="2.6"/>
<rect x="634" y="624" width="21" height="12" rx="6.0" ry="6.0" fill="#fbfbfb" stroke="#949494" stroke-width="2.6"/>
<rect x="611" y="634.6" width="24" height="12.6" rx="6.3" ry="6.3" fill="#fbfbfb" stroke="#949494" stroke-width="2.6"/>
<rect x="632" y="637" width="22" height="12" rx="6.0" ry="6.0" fill="#fbfbfb" stroke="#949494" stroke-width="2.6"/>
<rect x="544" y="645.6" width="62" height="12.6" rx="6.3" ry="6.3" fill="#fbfbfb" stroke="#949494" stroke-width="2.6"/>
<rect x="604" y="646" width="24" height="12.4" rx="6.2" ry="6.2" fill="#fbfbfb" stroke="#949494" stroke-width="2.6"/>
<rect x="624" y="649" width="24" height="12.6" rx="6.3" ry="6.3" fill="#fbfbfb" stroke="#949494" stroke-width="2.6"/>
<rect x="559" y="658.2" width="64" height="9.4" rx="4.7" ry="4.7" fill="#fbfbfb" stroke="#949494" stroke-width="2.6"/>
<rect x="619" y="657.4" width="20" height="10" rx="5.0" ry="5.0" fill="#fbfbfb" stroke="#949494" stroke-width="2.6"/>
<path d="M609,573 Q609.6,577 605.6,577.6" fill="none" stroke="#949494" stroke-width="2.2" stroke-linecap="round"/>
<path d="M629,559 Q629.6,563 625.6,563.6" fill="none" stroke="#949494" stroke-width="2.2" stroke-linecap="round"/>
<path d="M641,573 Q641.6,577 637.6,577.6" fill="none" stroke="#949494" stroke-width="2.2" stroke-linecap="round"/>
<path d="M618,586 Q618.6,590 614.6,590.6" fill="none" stroke="#949494" stroke-width="2.2" stroke-linecap="round"/>
<path d="M636,586 Q636.6,590 632.6,590.6" fill="none" stroke="#949494" stroke-width="2.2" stroke-linecap="round"/>
<path d="M611,627 Q611.6,631 607.6,631.6" fill="none" stroke="#949494" stroke-width="2.2" stroke-linecap="round"/>
<path d="M630,628 Q630.6,632 626.6,632.6" fill="none" stroke="#949494" stroke-width="2.2" stroke-linecap="round"/>
<path d="M627,641 Q627.6,645 623.6,645.6" fill="none" stroke="#949494" stroke-width="2.2" stroke-linecap="round"/>
<path d="M608,653 Q608.6,657 604.6,657.6" fill="none" stroke="#949494" stroke-width="2.2" stroke-linecap="round"/>
<path d="M626,656 Q626.6,660 622.6,660.6" fill="none" stroke="#949494" stroke-width="2.2" stroke-linecap="round"/>
<path d="M641,643 Q641.6,647 637.6,647.6" fill="none" stroke="#949494" stroke-width="2.2" stroke-linecap="round"/><path d="M612,602.4 L650,602 Q656.4,603 656.4,611.4 Q656,620.6 650,621 L612,621.4 Z" fill="#eef4f8" stroke="#9c9c9c" stroke-width="1.6"/>
<path d="M623,603 Q627,611 621,620.6" fill="none" stroke="#9fcff0" stroke-width="2.2"/>
<path d="M632,603 Q636,611 630,620.6" fill="none" stroke="#9fcff0" stroke-width="2.2"/>
<path d="M641,603 Q645,611 639,620.6" fill="none" stroke="#9fcff0" stroke-width="2.2"/>
<path d="M649,603 Q653,611 647,620.6" fill="none" stroke="#9fcff0" stroke-width="2.2"/>
<rect x="539.6" y="598.8" width="75" height="32.6" rx="9" ry="9" fill="#f8f8f8" stroke="#5c5c5c" stroke-width="2.1"/>
<rect x="546" y="605" width="62" height="19.8" fill="url(#fadeG)" stroke="#3b3b3b" stroke-width="1.5"/>
<path d="M586,607 L592.6,607 L588,623 L582.4,623 Z" fill="#7f8a93"/>
<path d="M598,608 L604,608 L602.6,623.4 L596.6,623.4 Z" fill="#dde6ec" stroke="#6c6c6c" stroke-width="0.8"/></g>
<g id="headC" transform="translate(446,-2)"><path d="M477.4,658.2 C478.8,657.1 482.8,653.2 486.0,651.6 C489.2,650.0 493.2,648.8 496.4,648.6 C499.6,648.4 502.4,649.5 505.0,650.6 C507.6,651.7 509.5,653.2 512.0,655.4 C514.5,657.6 517.4,660.9 520.0,663.6 C522.6,666.3 525.1,669.4 527.4,671.4 C529.7,673.4 531.6,674.5 534.0,675.4 C536.4,676.3 540.2,676.4 541.5,676.6 L547.2,800 L473.4,800 Z" fill="#cbedf5"/>
<path d="M477.4,658.2 L473.4,791" fill="none" stroke="#41464c" stroke-width="2.4"/>
<path d="M541.5,676.4 L547.2,791" fill="none" stroke="#41464c" stroke-width="2.4"/>
<path d="M514.3,564.8 C511.6,564.5 503.1,563.0 498.0,563.2 C492.9,563.4 488.2,564.4 483.7,565.9 C479.2,567.4 474.3,569.5 471.0,572.0 C467.7,574.5 466.1,577.5 464.0,581.0 C461.9,584.5 459.7,588.6 458.4,593.0 C457.1,597.4 456.6,602.7 456.4,607.4 C456.2,612.1 456.7,616.6 457.4,621.0 C458.1,625.4 459.2,629.9 460.4,633.6 C461.6,637.4 463.1,640.5 464.8,643.5 C466.5,646.5 468.5,648.9 470.6,651.4 C472.7,653.9 476.3,657.1 477.4,658.2 C478.8,657.1 482.8,653.2 486.0,651.6 C489.2,650.0 493.2,648.8 496.4,648.6 C499.6,648.4 502.4,649.5 505.0,650.6 C507.6,651.7 509.5,653.2 512.0,655.4 C514.5,657.6 517.4,660.9 520.0,663.6 C522.6,666.3 525.1,669.4 527.4,671.4 C529.7,673.4 531.6,674.5 534.0,675.4 C536.4,676.3 540.2,676.4 541.5,676.6 L541.5,600 Z" fill="#cbedf5"/>
<path d="M514.3,564.8 C511.6,564.5 503.1,563.0 498.0,563.2 C492.9,563.4 488.2,564.4 483.7,565.9 C479.2,567.4 474.3,569.5 471.0,572.0 C467.7,574.5 466.1,577.5 464.0,581.0 C461.9,584.5 459.7,588.6 458.4,593.0 C457.1,597.4 456.6,602.7 456.4,607.4 C456.2,612.1 456.7,616.6 457.4,621.0 C458.1,625.4 459.2,629.9 460.4,633.6 C461.6,637.4 463.1,640.5 464.8,643.5 C466.5,646.5 468.5,648.9 470.6,651.4 C472.7,653.9 476.3,657.1 477.4,658.2" fill="none" stroke="#41464c" stroke-width="2.5"/>
<path d="M477.4,658.2 C478.8,657.1 482.8,653.2 486.0,651.6 C489.2,650.0 493.2,648.8 496.4,648.6 C499.6,648.4 502.4,649.5 505.0,650.6 C507.6,651.7 509.5,653.2 512.0,655.4 C514.5,657.6 517.4,660.9 520.0,663.6 C522.6,666.3 525.1,669.4 527.4,671.4 C529.7,673.4 531.6,674.5 534.0,675.4 C536.4,676.3 540.2,676.4 541.5,676.6" fill="none" stroke="#41464c" stroke-width="2.4"/>
<path d="M541.5,551.4 L563,551.8 L563,676.4 L541.5,676.6 Z" fill="#cbedf5"/>
<ellipse cx="541.5" cy="614" rx="36" ry="62.6" fill="#cbedf5" stroke="#41464c" stroke-width="2.5"/>
<path d="M541.5,551.4 L563,551.8 L563,676.4 L541.5,676.6 Z" fill="#cbedf5"/>
<line x1="541.5" y1="551.4" x2="564" y2="551.8" stroke="#41464c" stroke-width="2.5"/>
<line x1="541.5" y1="676.6" x2="563" y2="676.4" stroke="#41464c" stroke-width="2.5"/>
<ellipse cx="563" cy="614.1" rx="35.4" ry="62.3" fill="#e3f4f9"/>
<path d="M587,568.2 A35.4,62.3 0 0 0 563,551.8 A35.4,62.3 0 0 0 563,676.4 A35.4,62.3 0 0 0 585,663" fill="none" stroke="#41464c" stroke-width="2.4" stroke-linecap="round"/></g>
<g id="headCbr"><path d="M996.8,566.3 C1004.9,559.6 1021.6,551.7 1031.9,546.7 C1042.2,541.7 1051.1,537.8 1058.7,536.3 C1066.3,534.8 1072.1,535.5 1077.3,537.4 C1082.5,539.3 1086.3,543.2 1089.7,547.7 C1093.1,552.2 1095.3,558.0 1097.9,564.2 C1100.5,570.4 1103.5,577.9 1105.1,584.8 C1106.6,591.7 1107.4,599.0 1107.2,605.5 C1107.0,612.0 1105.0,617.8 1104.1,624.0 C1103.2,630.2 1103.4,636.8 1102.0,642.6 C1100.6,648.5 1098.7,654.0 1095.9,659.1 C1093.2,664.2 1089.6,669.2 1085.5,673.5 C1081.4,677.8 1075.9,682.5 1071.1,684.9 C1066.3,687.3 1061.5,689.5 1056.7,688.0 C1051.9,686.5 1048.0,679.0 1042.2,675.6 C1036.4,672.2 1029.2,670.5 1021.6,667.4 C1014.0,664.3 1003.3,662.9 996.8,657.0 C990.3,651.1 985.1,640.5 982.4,632.3 C979.6,624.0 980.1,615.1 980.3,607.5 C980.5,599.9 980.6,593.8 983.4,586.9 C986.1,580.0 988.7,573.0 996.8,566.3 Z" fill="#fafafa" filter="url(#soft2)"/>
<path d="M1058.7,537.0 C1054.2,538.9 1041.5,543.5 1031.9,548.1 C1022.3,552.7 1006.1,561.9 1000.9,564.6 Q995.9,565.5 997.9,569.2 Q996.9,572.8 1000.9,573.7 C1006.1,571.8 1023.3,565.4 1031.9,562.1 C1040.5,558.8 1049.1,555.3 1052.5,553.9" fill="#fbfbfb" stroke="#8c8c8c" stroke-width="2.4" stroke-linejoin="round" stroke-linecap="round"/>
<path d="M1040.1,670.5 C1036.7,669.2 1027.0,665.6 1019.5,662.8 C1012.0,660.0 998.9,655.4 994.8,653.9 Q992.3,654.4 994.3,656.3 Q993.3,658.2 998.9,658.7 C1003.0,660.3 1017.1,665.9 1023.6,668.4 C1030.1,670.9 1035.7,673.1 1038.1,674.0" fill="#fbfbfb" stroke="#8c8c8c" stroke-width="1.8" stroke-linejoin="round" stroke-linecap="round"/>
<path d="M1041.2,651.3 C1037.9,650.3 1030.0,647.2 1021.6,645.1 C1013.2,643.0 995.8,639.9 990.6,638.9 Q986.2,640.3 988.2,645.7 Q987.2,651.1 993.1,652.5 C997.2,653.9 1009.5,658.0 1017.5,660.8 C1025.5,663.5 1037.2,667.6 1041.2,669.0" fill="#fbfbfb" stroke="#8c8c8c" stroke-width="2.4" stroke-linejoin="round" stroke-linecap="round"/>
<path d="M1031.9,574.1 C1028.5,574.6 1018.9,575.3 1011.3,577.0 C1003.7,578.7 990.6,583.0 986.5,584.2 Q980.8,585.3 982.8,589.9 Q981.8,594.5 986.5,595.6 C990.6,595.7 1004.2,596.6 1011.3,596.4 C1018.3,596.2 1025.9,594.6 1028.8,594.3" fill="#fbfbfb" stroke="#8c8c8c" stroke-width="2.4" stroke-linejoin="round" stroke-linecap="round"/>
<path d="M1028.8,622.4 C1025.9,622.3 1018.6,621.8 1011.3,621.6 C1004.0,621.4 989.3,621.2 984.9,621.1 Q978.7,622.5 980.7,628.2 Q979.7,633.8 984.9,635.2 C989.3,635.6 1003.5,636.7 1011.3,637.6 C1019.1,638.5 1028.5,640.4 1031.9,640.9" fill="#fbfbfb" stroke="#8c8c8c" stroke-width="2.4" stroke-linejoin="round" stroke-linecap="round"/>
<path d="M1028.8,599.3 C1025.9,599.5 1018.8,600.0 1011.3,600.5 C1003.8,601.0 988.2,602.2 983.6,602.6 Q977.9,603.9 979.9,609.2 Q978.9,614.5 983.6,615.8 C988.2,615.9 1004.1,616.1 1011.3,616.2 C1018.5,616.3 1024.1,616.2 1026.7,616.2" fill="url(#cblueG)" stroke="#8c8c8c" stroke-width="1.8" stroke-linejoin="round" stroke-linecap="round"/>
<line x1="982.8" y1="606.5" x2="1017.5" y2="604.6" stroke="#4a9ade" stroke-width="1.3"/>
<line x1="982.8" y1="611.7" x2="1017.5" y2="611.7" stroke="#4a9ade" stroke-width="1.3"/>
<path d="M1005.1,569.4 C1009.6,567.1 1024.0,559.9 1031.9,555.9 C1039.8,551.9 1049.1,547.3 1052.5,545.6" fill="none" stroke="#8c8c8c" stroke-width="1.2" stroke-linecap="round"/>
<path d="M1007.1,572.0 C1010.9,570.3 1026.0,563.4 1029.8,561.7" fill="none" stroke="#8c8c8c" stroke-width="1.2" stroke-linecap="round"/>
<path d="M994.8,645.7 C998.6,646.6 1010.3,649.1 1017.5,651.3 C1024.7,653.5 1034.7,657.8 1038.1,659.1" fill="none" stroke="#8c8c8c" stroke-width="1.2" stroke-linecap="round"/>
<path d="M995.8,648.8 C999.1,649.9 1012.1,654.3 1015.4,655.4" fill="none" stroke="#8c8c8c" stroke-width="1.2" stroke-linecap="round"/>
<path d="M1000.9,574.9 C1004.0,573.9 1014.0,570.6 1019.5,568.7 C1025.0,566.8 1031.6,564.3 1034.0,563.4" fill="none" stroke="#7d7d7d" stroke-width="2.6" stroke-linecap="round"/>
<path d="M986.9,596.8 C991.0,596.9 1004.3,597.8 1011.3,597.6 C1018.3,597.4 1025.9,595.9 1028.8,595.6" fill="none" stroke="#7d7d7d" stroke-width="2.6" stroke-linecap="round"/>
<path d="M984.9,619.5 C989.3,619.6 1004.3,619.7 1011.3,619.9 C1018.3,620.1 1024.1,620.6 1026.7,620.7" fill="none" stroke="#7d7d7d" stroke-width="2.6" stroke-linecap="round"/>
<path d="M990.6,637.6 C995.1,638.5 1009.4,641.0 1017.5,643.0 C1025.6,645.0 1035.5,648.5 1039.1,649.6" fill="none" stroke="#7d7d7d" stroke-width="2.6" stroke-linecap="round"/>
<path d="M1031.9,604.4 C1033.5,603.2 1038.1,597.4 1041.2,597.2 C1044.3,597.0 1047.6,603.8 1050.5,603.4 C1053.4,603.0 1056.0,595.1 1058.7,595.1 C1061.5,595.1 1064.2,603.2 1067.0,603.4 C1069.8,603.6 1072.5,596.2 1075.2,596.2 C1078.0,596.2 1080.8,603.8 1083.5,603.4 C1086.2,603.0 1089.0,595.3 1091.7,594.1 C1094.5,592.9 1097.8,596.4 1100.0,596.2 C1102.2,596.0 1104.2,593.6 1105.1,593.1" fill="none" stroke="#b3dbf6" stroke-width="9" stroke-linecap="round" opacity="0.95"/>
<path d="M1034.0,612.7 C1035.7,612.0 1041.2,608.4 1044.3,608.6 C1047.4,608.8 1049.4,613.9 1052.5,613.7 C1055.6,613.5 1059.3,607.7 1062.8,607.5 C1066.2,607.3 1069.9,612.5 1073.2,612.7 C1076.5,612.9 1079.3,608.8 1082.4,608.6 C1085.5,608.4 1088.8,612.1 1091.7,611.7 C1094.6,611.4 1098.6,607.4 1100.0,606.5" fill="none" stroke="#a5d3f4" stroke-width="7" stroke-linecap="round" opacity="0.9"/>
<path d="M1037.1,599.3 Q1038.3,608.6 1031.3,614.7" fill="none" stroke="#5e5e5e" stroke-width="1.5" stroke-linecap="round"/>
<path d="M1046.3,597.2 Q1047.6,606.5 1040.6,612.7" fill="none" stroke="#5e5e5e" stroke-width="1.5" stroke-linecap="round"/>
<path d="M1055.6,596.2 Q1056.9,605.5 1049.8,611.7" fill="none" stroke="#5e5e5e" stroke-width="1.5" stroke-linecap="round"/>
<path d="M1064.9,597.2 Q1066.1,606.5 1059.1,612.7" fill="none" stroke="#5e5e5e" stroke-width="1.5" stroke-linecap="round"/>
<path d="M1074.2,596.2 Q1075.4,605.5 1068.4,611.7" fill="none" stroke="#5e5e5e" stroke-width="1.5" stroke-linecap="round"/>
<path d="M1083.5,596.2 Q1084.7,605.5 1077.7,611.7" fill="none" stroke="#5e5e5e" stroke-width="1.5" stroke-linecap="round"/>
<path d="M1092.8,593.1 Q1094.0,602.4 1087.0,608.6" fill="none" stroke="#5e5e5e" stroke-width="1.5" stroke-linecap="round"/>
<path d="M1101.0,591.0 Q1102.2,600.3 1095.2,606.5" fill="none" stroke="#5e5e5e" stroke-width="1.5" stroke-linecap="round"/>
<path d="M1058.3,556.1 A4.5,4.5 0 0 1 1057.8,564.3" fill="none" stroke="#5e5e5e" stroke-width="1.4" stroke-linecap="round"/>
<path d="M1079.2,551.4 A3.5,3.5 0 0 1 1078.9,545.4" fill="none" stroke="#5e5e5e" stroke-width="1.4" stroke-linecap="round"/>
<path d="M1037.8,548.1 A3.1,3.1 0 0 1 1039.9,552.4" fill="none" stroke="#5e5e5e" stroke-width="1.4" stroke-linecap="round"/>
<path d="M1063.9,658.5 A3.4,3.4 0 0 1 1067.2,662.3" fill="none" stroke="#5e5e5e" stroke-width="1.4" stroke-linecap="round"/>
<path d="M1045.2,571.9 A4.0,4.0 0 0 1 1038.8,574.2" fill="none" stroke="#5e5e5e" stroke-width="1.4" stroke-linecap="round"/>
<path d="M1083.8,679.5 A4.7,4.7 0 0 1 1075.0,682.3" fill="none" stroke="#5e5e5e" stroke-width="1.4" stroke-linecap="round"/>
<path d="M1096.3,584.0 A3.1,3.1 0 0 1 1093.6,580.3" fill="none" stroke="#5e5e5e" stroke-width="1.4" stroke-linecap="round"/>
<path d="M1050.8,660.3 A4.4,4.4 0 0 1 1057.4,656.6" fill="none" stroke="#5e5e5e" stroke-width="1.4" stroke-linecap="round"/>
<path d="M1045.9,628.7 A3.7,3.7 0 0 1 1042.6,622.6" fill="none" stroke="#5e5e5e" stroke-width="1.4" stroke-linecap="round"/>
<path d="M1053.5,621.6 A4.4,4.4 0 0 1 1059.3,628.0" fill="none" stroke="#5e5e5e" stroke-width="1.4" stroke-linecap="round"/>
<path d="M1064.4,579.8 A3.1,3.1 0 0 1 1068.8,584.0" fill="none" stroke="#5e5e5e" stroke-width="1.4" stroke-linecap="round"/>
<path d="M1090.6,646.6 A4.1,4.1 0 0 1 1088.8,639.9" fill="none" stroke="#5e5e5e" stroke-width="1.4" stroke-linecap="round"/>
<path d="M1071.2,665.9 A3.3,3.3 0 0 1 1074.6,670.0" fill="none" stroke="#5e5e5e" stroke-width="1.4" stroke-linecap="round"/>
<path d="M1086.9,583.9 A3.2,3.2 0 0 1 1085.3,577.9" fill="none" stroke="#5e5e5e" stroke-width="1.4" stroke-linecap="round"/>
<path d="M1060.2,649.7 A3.6,3.6 0 0 1 1066.4,649.5" fill="none" stroke="#5e5e5e" stroke-width="1.4" stroke-linecap="round"/>
<path d="M1038.8,637.8 A3.9,3.9 0 0 1 1033.8,641.8" fill="none" stroke="#5e5e5e" stroke-width="1.4" stroke-linecap="round"/>
<path d="M1091.0,619.7 A4.2,4.2 0 0 1 1089.4,627.9" fill="none" stroke="#5e5e5e" stroke-width="1.4" stroke-linecap="round"/>
<path d="M1070.7,639.7 A3.9,3.9 0 0 1 1063.7,637.1" fill="none" stroke="#5e5e5e" stroke-width="1.4" stroke-linecap="round"/>
<path d="M1038.9,649.1 A4.8,4.8 0 0 1 1040.1,656.0" fill="none" stroke="#5e5e5e" stroke-width="1.4" stroke-linecap="round"/>
<path d="M1058.1,673.6 A3.1,3.1 0 0 1 1056.2,669.0" fill="none" stroke="#5e5e5e" stroke-width="1.4" stroke-linecap="round"/>
<path d="M1080.3,576.3 A4.1,4.1 0 0 1 1072.9,579.2" fill="none" stroke="#5e5e5e" stroke-width="1.4" stroke-linecap="round"/>
<path d="M1100.4,644.7 A4.7,4.7 0 0 1 1102.6,636.8" fill="none" stroke="#5e5e5e" stroke-width="1.4" stroke-linecap="round"/>
<path d="M1097.5,662.0 A4.5,4.5 0 0 1 1096.2,653.3" fill="none" stroke="#5e5e5e" stroke-width="1.4" stroke-linecap="round"/>
<path d="M1050.9,564.4 A4.1,4.1 0 0 1 1043.5,562.4" fill="none" stroke="#5e5e5e" stroke-width="1.4" stroke-linecap="round"/>
<path d="M1058.2,548.9 A3.6,3.6 0 0 1 1053.9,545.3" fill="none" stroke="#5e5e5e" stroke-width="1.4" stroke-linecap="round"/>
<path d="M1032.9,563.4 A3.4,3.4 0 0 1 1028.9,558.6" fill="none" stroke="#5e5e5e" stroke-width="1.4" stroke-linecap="round"/>
<path d="M1031.9,666.4 A3.3,3.3 0 0 1 1036.6,667.3" fill="none" stroke="#5e5e5e" stroke-width="1.4" stroke-linecap="round"/>
<path d="M1076.1,563.5 A4.3,4.3 0 0 1 1075.0,556.9" fill="none" stroke="#5e5e5e" stroke-width="1.4" stroke-linecap="round"/>
<path d="M1049.6,592.8 A3.3,3.3 0 0 1 1050.2,586.5" fill="none" stroke="#5e5e5e" stroke-width="1.4" stroke-linecap="round"/>
<path d="M1054.8,576.4 A3.0,3.0 0 0 1 1059.0,574.5" fill="none" stroke="#5e5e5e" stroke-width="1.4" stroke-linecap="round"/>
<path d="M1091.1,564.2 A4.0,4.0 0 0 1 1094.9,557.7" fill="none" stroke="#5e5e5e" stroke-width="1.4" stroke-linecap="round"/>
<path d="M1075.5,543.2 A3.2,3.2 0 0 1 1069.6,541.9" fill="none" stroke="#5e5e5e" stroke-width="1.4" stroke-linecap="round"/>
<path d="M1068.7,686.6 A3.5,3.5 0 0 1 1071.1,681.3" fill="none" stroke="#5e5e5e" stroke-width="1.4" stroke-linecap="round"/>
<path d="M1075.4,653.7 A3.5,3.5 0 0 1 1070.6,657.9" fill="none" stroke="#5e5e5e" stroke-width="1.4" stroke-linecap="round"/>
<path d="M1031.7,582.4 A3.7,3.7 0 0 1 1034.6,575.8" fill="none" stroke="#5e5e5e" stroke-width="1.4" stroke-linecap="round"/>
<path d="M1055.0,641.6 A3.6,3.6 0 0 1 1050.5,645.2" fill="none" stroke="#5e5e5e" stroke-width="1.4" stroke-linecap="round"/>
<path d="M1103.5,601.5 A3.3,3.3 0 0 1 1107.2,604.4" fill="none" stroke="#5e5e5e" stroke-width="1.4" stroke-linecap="round"/>
<path d="M1106.9,590.1 A3.8,3.8 0 0 1 1102.4,595.8" fill="none" stroke="#5e5e5e" stroke-width="1.4" stroke-linecap="round"/>
<path d="M1077.2,660.4 A4.7,4.7 0 0 1 1081.0,653.1" fill="none" stroke="#5e5e5e" stroke-width="1.4" stroke-linecap="round"/>
<path d="M1046.9,658.7 A2.9,2.9 0 0 1 1042.4,655.8" fill="none" stroke="#5e5e5e" stroke-width="1.4" stroke-linecap="round"/>
<path d="M1059.1,676.3 A4.8,4.8 0 0 1 1066.2,677.5" fill="none" stroke="#5e5e5e" stroke-width="1.4" stroke-linecap="round"/>
<path d="M1039.1,671.9 A3.7,3.7 0 0 1 1045.4,673.8" fill="none" stroke="#5e5e5e" stroke-width="1.4" stroke-linecap="round"/>
<path d="M1067.2,567.7 A3.5,3.5 0 0 1 1061.6,565.0" fill="none" stroke="#5e5e5e" stroke-width="1.4" stroke-linecap="round"/>
<path d="M1087.3,668.0 A3.1,3.1 0 0 1 1084.1,672.5" fill="none" stroke="#5e5e5e" stroke-width="1.4" stroke-linecap="round"/>
<path d="M1050.1,676.2 A4.9,4.9 0 0 1 1052.4,683.6" fill="none" stroke="#5e5e5e" stroke-width="1.4" stroke-linecap="round"/>
<path d="M1078.2,646.3 A4.8,4.8 0 0 1 1070.5,640.9" fill="none" stroke="#5e5e5e" stroke-width="1.4" stroke-linecap="round"/>
<path d="M1047.8,540.0 A3.0,3.0 0 0 1 1053.3,538.2" fill="none" stroke="#5e5e5e" stroke-width="1.4" stroke-linecap="round"/>
<path d="M1081.5,636.2 A4.8,4.8 0 0 1 1085.4,628.4" fill="none" stroke="#5e5e5e" stroke-width="1.4" stroke-linecap="round"/>
<path d="M1106.6,616.9 A3.2,3.2 0 0 1 1105.6,623.0" fill="none" stroke="#5e5e5e" stroke-width="1.4" stroke-linecap="round"/>
<path d="M1099.7,635.5 A3.7,3.7 0 0 1 1096.7,629.0" fill="none" stroke="#5e5e5e" stroke-width="1.4" stroke-linecap="round"/>
<path d="M1071.3,615.1 A3.3,3.3 0 0 1 1072.1,620.3" fill="none" stroke="#5e5e5e" stroke-width="1.4" stroke-linecap="round"/>
<path d="M1083.6,570.6 A4.0,4.0 0 0 1 1086.3,564.4" fill="none" stroke="#5e5e5e" stroke-width="1.4" stroke-linecap="round"/>
<path d="M1069.4,557.6 A3.4,3.4 0 0 1 1063.6,554.9" fill="none" stroke="#5e5e5e" stroke-width="1.4" stroke-linecap="round"/>
<path d="M1048.8,549.3 A3.0,3.0 0 0 1 1046.2,554.0" fill="none" stroke="#5e5e5e" stroke-width="1.4" stroke-linecap="round"/>
<path d="M1058.7,536.3 A6.4,6.4 0 0 1 1069.0,535.3" fill="none" stroke="#767676" stroke-width="1.3" stroke-linecap="round"/>
<path d="M1069.0,535.3 A6.9,6.9 0 0 1 1079.3,539.4" fill="none" stroke="#767676" stroke-width="1.3" stroke-linecap="round"/>
<path d="M1079.3,539.4 A7.7,7.7 0 0 1 1088.6,547.7" fill="none" stroke="#767676" stroke-width="1.3" stroke-linecap="round"/>
<path d="M1093.8,558.0 A7.7,7.7 0 0 1 1098.9,569.4" fill="none" stroke="#767676" stroke-width="1.3" stroke-linecap="round"/>
<path d="M1098.9,569.4 A7.7,7.7 0 0 1 1104.1,580.7" fill="none" stroke="#767676" stroke-width="1.3" stroke-linecap="round"/>
<path d="M1104.1,580.7 A7.8,7.8 0 0 1 1106.2,593.1" fill="none" stroke="#767676" stroke-width="1.3" stroke-linecap="round"/>
<path d="M1106.2,593.1 A8.9,8.9 0 0 1 1106.6,607.5" fill="none" stroke="#767676" stroke-width="1.3" stroke-linecap="round"/>
<path d="M1105.1,618.9 A7.1,7.1 0 0 1 1103.7,630.2" fill="none" stroke="#767676" stroke-width="1.3" stroke-linecap="round"/>
<path d="M1103.7,630.2 A7.8,7.8 0 0 1 1102.0,642.6" fill="none" stroke="#767676" stroke-width="1.3" stroke-linecap="round"/>
<path d="M1102.0,642.6 A6.7,6.7 0 0 1 1098.9,652.9" fill="none" stroke="#767676" stroke-width="1.3" stroke-linecap="round"/>
<path d="M1098.9,652.9 A6.6,6.6 0 0 1 1093.8,662.2" fill="none" stroke="#767676" stroke-width="1.3" stroke-linecap="round"/>
<path d="M1087.6,670.5 A7.2,7.2 0 0 1 1079.3,678.7" fill="none" stroke="#767676" stroke-width="1.3" stroke-linecap="round"/>
<path d="M1079.3,678.7 A6.4,6.4 0 0 1 1071.1,684.9" fill="none" stroke="#767676" stroke-width="1.3" stroke-linecap="round"/>
<path d="M1071.1,684.9 A6.7,6.7 0 0 1 1060.8,688.0" fill="none" stroke="#767676" stroke-width="1.3" stroke-linecap="round"/>
<path d="M1060.8,688.0 A5.7,5.7 0 0 1 1052.5,683.9" fill="none" stroke="#767676" stroke-width="1.3" stroke-linecap="round"/></g>
</g>
<path d="M445.4,357.8 L1115.4,351 L1114.8,762.6 Q1114.6,788.4 1089.4,788.8 L466.6,794.4 Q443,794.6 442.8,771 Z" fill="none" stroke="#e9f4fa" stroke-width="2.6" opacity="0.95"/>

<!-- callout 1 -->
<g transform="rotate(-0.3 578.7 443.4)">
<rect x="490.9" y="402.9" width="175.6" height="80.9" rx="13.5" fill="#f6f6f6" stroke="#4d4d4d" stroke-width="1.3"/>
<g clip-path="url(#co1)">
<path d="M491,416.4 L626,412.8 L626,474.4 L491,470.4 Z" fill="#b6e8fa"/>
<path d="M491,416.4 L626,412.8 L626,419.6 L491,423.1 Z" fill="#68aeea"/>
<path d="M491,423.1 L626,419.6 L626,426.7 L491,428.4 Z" fill="#9fd6f6"/>
<path d="M491,458 L626,459.2 L626,467.1 L491,465.4 Z" fill="#8fcff4"/>
<path d="M491,465.4 L626,467.1 L626,474.4 L491,470.4 Z" fill="#5aa5e5"/>
<path d="M491,423.1 L626,419.6 L626,422.20000000000005 L491,425.5 Z" fill="#6fb9ec"/>
<path d="M491,428.4 L626,426.7 L626,429.3 L491,430.79999999999995 Z" fill="#6fb9ec"/>
<path d="M491,435.8 L626,434.6 L626,437.20000000000005 L491,438.2 Z" fill="#6fb9ec"/>
<path d="M491,443.4 L626,443.4 L626,446.0 L491,445.79999999999995 Z" fill="#6fb9ec"/>
<path d="M491,450.9 L626,451.6 L626,454.20000000000005 L491,453.29999999999995 Z" fill="#6fb9ec"/>
<path d="M491,458 L626,459.2 L626,461.8 L491,460.4 Z" fill="#6fb9ec"/>
<path d="M491,465.4 L626,467.1 L626,469.70000000000005 L491,467.79999999999995 Z" fill="#6fb9ec"/>
<line x1="491" y1="416.4" x2="626" y2="412.8" stroke="#2f5a85" stroke-width="2.2"/>
<line x1="491" y1="423.1" x2="626" y2="419.6" stroke="#4079ad" stroke-width="1.3"/>
<line x1="491" y1="428.4" x2="626" y2="426.7" stroke="#4079ad" stroke-width="1.3"/>
<line x1="491" y1="435.8" x2="626" y2="434.6" stroke="#4079ad" stroke-width="1.3"/>
<line x1="491" y1="443.4" x2="626" y2="443.4" stroke="#4079ad" stroke-width="1.3"/>
<line x1="491" y1="450.9" x2="626" y2="451.6" stroke="#4079ad" stroke-width="1.3"/>
<line x1="491" y1="458" x2="626" y2="459.2" stroke="#4079ad" stroke-width="1.3"/>
<line x1="491" y1="465.4" x2="626" y2="467.1" stroke="#4079ad" stroke-width="1.3"/>
<line x1="491" y1="470.4" x2="626" y2="474.4" stroke="#2f5a85" stroke-width="2.2"/>
<path d="M625,412.4 Q631,412 633,416 Q637.6,430 637.4,444 Q637,459 632.6,471 Q630.6,475 625,474.6 Q620,460 620.4,443 Q620.6,428 625,412.4 Z" fill="#9bd0f3"/>
<circle cx="624.2" cy="421.4" r="2.1" fill="#2b5f96"/><circle cx="622.1" cy="431.9" r="2.1" fill="#2b5f96"/><circle cx="621.6" cy="442.6" r="2.1" fill="#2b5f96"/><circle cx="622.1" cy="453.4" r="2.1" fill="#2b5f96"/><circle cx="623.6" cy="464" r="2.1" fill="#2b5f96"/><circle cx="634.2" cy="422.8" r="2.1" fill="#2b5f96"/><circle cx="635.7" cy="433.3" r="2.1" fill="#2b5f96"/><circle cx="636.2" cy="445.1" r="2.1" fill="#2b5f96"/><circle cx="635.1" cy="456.9" r="2.1" fill="#2b5f96"/><circle cx="633.2" cy="467.1" r="2.1" fill="#2b5f96"/>
<path d="M491,416.4 L626,412.8 Q631,412.6 632.6,415.6" fill="none" stroke="#2c5f93" stroke-width="2.2"/>
<path d="M491,470.4 L626,474.4 Q630.6,474.6 632,472" fill="none" stroke="#2c5f93" stroke-width="2.2"/>
<line x1="491.8" y1="416" x2="491.8" y2="471" stroke="#2c5f93" stroke-width="1.6"/>
</g>
</g>
<line x1="566.7" y1="484" x2="565.6" y2="598.6" stroke="#444" stroke-width="1.3"/>

<!-- arrow 1 -->
<path d="M688,429.6 L712,429.2 L712,417.4 L734.6,438.9 L712,461.8 L712,450 L688,450.4 Z" fill="#7cd0f4" stroke="#6cc0ee" stroke-width="0.9"/>

<!-- callout 2 -->
<g transform="rotate(-0.9 838.3 442)">
<rect x="750.9" y="401.9" width="174.9" height="80.8" rx="13.5" fill="#f6f6f6" stroke="#4d4d4d" stroke-width="1.3"/>
<g clip-path="url(#co2)" transform="rotate(0.7 820 442)">
<path d="M751.6,414.8 L890,411 L890,473.4 L751.6,470.2 Z" fill="#b6e8fa"/>
<path d="M751.6,414.8 L890,411 L890,418 L751.6,421.4 Z" fill="#68aeea"/>
<path d="M751.6,421.4 L890,418 L890,425 L751.6,426.8 Z" fill="#9fd6f6"/>
<path d="M751.6,456.2 L890,457.4 L890,465.4 L751.6,463.6 Z" fill="#8fcff4"/>
<path d="M751.6,463.6 L890,465.4 L890,473.4 L751.6,470.2 Z" fill="#5aa5e5"/>
<path d="M751.6,421.4 L890,418 L890,420.6 L751.6,423.79999999999995 Z" fill="#6fb9ec"/>
<path d="M751.6,426.8 L890,425 L890,427.6 L751.6,429.2 Z" fill="#6fb9ec"/>
<path d="M751.6,434 L890,433 L890,435.6 L751.6,436.4 Z" fill="#6fb9ec"/>
<path d="M751.6,441.6 L890,441.6 L890,444.20000000000005 L751.6,444.0 Z" fill="#6fb9ec"/>
<path d="M751.6,449 L890,449.8 L890,452.40000000000003 L751.6,451.4 Z" fill="#6fb9ec"/>
<path d="M751.6,456.2 L890,457.4 L890,460.0 L751.6,458.59999999999997 Z" fill="#6fb9ec"/>
<path d="M751.6,463.6 L890,465.4 L890,468.0 L751.6,466.0 Z" fill="#6fb9ec"/>
<line x1="751.6" y1="414.8" x2="890" y2="411" stroke="#2f5a85" stroke-width="2.2"/>
<line x1="751.6" y1="421.4" x2="890" y2="418" stroke="#4079ad" stroke-width="1.3"/>
<line x1="751.6" y1="426.8" x2="890" y2="425" stroke="#4079ad" stroke-width="1.3"/>
<line x1="751.6" y1="434" x2="890" y2="433" stroke="#4079ad" stroke-width="1.3"/>
<line x1="751.6" y1="441.6" x2="890" y2="441.6" stroke="#4079ad" stroke-width="1.3"/>
<line x1="751.6" y1="449" x2="890" y2="449.8" stroke="#4079ad" stroke-width="1.3"/>
<line x1="751.6" y1="456.2" x2="890" y2="457.4" stroke="#4079ad" stroke-width="1.3"/>
<line x1="751.6" y1="463.6" x2="890" y2="465.4" stroke="#4079ad" stroke-width="1.3"/>
<line x1="751.6" y1="470.2" x2="890" y2="473.4" stroke="#2f5a85" stroke-width="2.2"/>
<rect x="798" y="405" width="100" height="75" fill="url(#b2fade)"/>
<g stroke="url(#lineG)" stroke-width="1.1">
<line x1="800" y1="420.22" x2="884" y2="418.1" opacity="0.85"/><line x1="800" y1="426.18" x2="884" y2="425.1" opacity="0.85"/><line x1="800" y1="433.66" x2="884" y2="433.0" opacity="0.85"/><line x1="800" y1="441.61" x2="884" y2="441.6" opacity="0.85"/><line x1="800" y1="449.29" x2="884" y2="449.8" opacity="0.85"/><line x1="800" y1="456.63" x2="884" y2="457.3" opacity="0.85"/><line x1="800" y1="464.24" x2="884" y2="465.3" opacity="0.85"/>
</g>
<line x1="751.6" y1="414.8" x2="893" y2="410.9" stroke="#3a3a3a" stroke-width="2.2"/>
<line x1="751.6" y1="470.2" x2="892" y2="473.5" stroke="#3a3a3a" stroke-width="2.2"/>
<line x1="752.4" y1="414.6" x2="752.4" y2="470.6" stroke="#2c5f93" stroke-width="1.6"/>
<path d="M751.6,414.8 L810,413.2" stroke="#2c5f93" stroke-width="2.2" fill="none"/>
<path d="M751.6,470.2 L810,471.6" stroke="#2c5f93" stroke-width="2.2" fill="none"/>
<ellipse cx="890.6" cy="442.2" rx="7.6" ry="29" fill="#f6f6f6" stroke="#333" stroke-width="2.2" stroke-dasharray="3.4 5.4"/>
</g>
</g>
<line x1="810.4" y1="482.6" x2="809.8" y2="600.6" stroke="#444" stroke-width="1.3"/>

<!-- arrow 2 -->
<path d="M944.4,426 L967.7,425.6 L967.7,415 L991.2,436 L967.7,459.2 L967.7,446.8 L944.4,447.2 Z" fill="#7cd0f4" stroke="#6cc0ee" stroke-width="0.9"/>

<!-- bin -->
<g fill="none" stroke="#3a3a3a" stroke-width="1.5" stroke-linejoin="round" stroke-linecap="round">
 <circle cx="1072.3" cy="392.8" r="5.6" fill="#f5f5f5"/>
 <circle cx="1072.3" cy="392.8" r="2.8" stroke="#9a9a9a" stroke-width="1"/>
 <path d="M1008.4,388.4 Q1008,382.4 1014,382.2 L1059,381.6 Q1064.4,381.8 1064.8,388"/>
 <rect x="1001.8" y="388.4" width="65.4" height="7.8" rx="3.6" fill="#f5f5f5"/>
 <path d="M1008,396.4 L1013.2,481.2 L1056.6,479.8"/>
 <path d="M1067,396.4 L1066.2,470.6"/>
 <path d="M1013.2,481.2 L1013.4,487.4 L1020.2,487.2 L1020.2,481"/>
 <circle cx="1065.4" cy="480.2" r="9.8" fill="#f5f5f5"/>
 <circle cx="1065.4" cy="480.2" r="3.9"/>
</g>

</g>

<!-- ============ LABELS ============ -->
<g id="labels">
<g fill="#2f2f2f" stroke-linejoin="round"><g transform="translate(10.4,230.4) scale(1.09,1)"><text x="0" y="0" font-size="37.6" stroke="#fefefe" stroke-width="1.2">A</text></g><g transform="translate(7.4,742) scale(1.15,1)"><text x="0" y="0" font-size="36.6" stroke="#fefefe" stroke-width="1.2">B</text></g><g transform="translate(581,730.4) scale(1.04,1)"><text x="0" y="0" font-size="47" stroke="#f5f5f5" stroke-width="1.4">a</text></g><g transform="translate(811.4,728.8) scale(1.2,1)"><text x="0" y="0" font-size="46.4" stroke="#f5f5f5" stroke-width="1.4">b</text></g><g transform="translate(1026,727.6) scale(1.16,1)"><text x="0" y="0" font-size="47" stroke="#f5f5f5" stroke-width="1.4">c</text></g></g>
</g>
</g>
</svg>
</body></html>
